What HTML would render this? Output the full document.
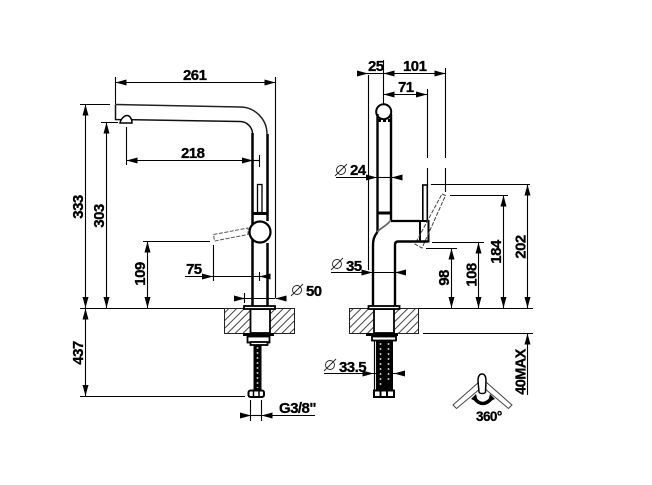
<!DOCTYPE html>
<html><head><meta charset="utf-8"><style>
html,body{margin:0;padding:0;background:#fff;width:652px;height:485px;overflow:hidden}
svg{display:block}
text{font-family:"Liberation Sans",sans-serif;font-weight:bold;font-size:15px;letter-spacing:-.55px;fill:#000;stroke:#000;stroke-width:.3}
.t{fill:none;stroke:#000;stroke-width:1.100}
.a{stroke:#000;stroke-width:1.100;fill:none;marker-end:url(#ar)}
.d{fill:#fff;stroke:#555;stroke-width:1;stroke-dasharray:4 1.500}
</style></head><body>
<svg width="652" height="485" viewBox="0 0 652 485" xmlns="http://www.w3.org/2000/svg">
<defs>
<marker id="ar" markerUnits="userSpaceOnUse" markerWidth="12" markerHeight="7" refX="11" refY="3.500" orient="auto"><path d="M0 .5L11 3.500L0 6.500z" fill="#000"/></marker>
<pattern id="h" patternUnits="userSpaceOnUse" width="5.500" height="5.500" patternTransform="rotate(-45)"><rect width="5.500" height="5.500" fill="#fff"/><rect width="5.500" height="1" fill="#444"/></pattern>
</defs>

<!-- LEFT VIEW dimensions -->
<path class="t" d="M115.500 77V104M275.500 77V298M80 104.500H110M101 122.500H118M126.500 127V165M259.500 155V167M143 241.500H210M213.500 245V281M259.500 272V281M244.500 293V303M80 308.500H244M80 396.500H245M250.500 400V421M261.500 400V421"/>
<path class="a" d="M195 82.500H115.500"/><path class="a" d="M195 82.500H275.500"/>
<path class="a" d="M200 160.500H126.500"/><path class="a" d="M200 160.500H253"/><path class="t" d="M253 160.500H259"/>
<path class="a" d="M85.500 200V104.500"/><path class="a" d="M85.500 200V308"/>
<path class="a" d="M106.500 210V122.500"/><path class="a" d="M106.500 210V308"/>
<path class="a" d="M147.500 270V241.500"/><path class="a" d="M147.500 270V308"/>
<path class="a" d="M185 276.500H213"/><path class="t" d="M213 276.500H259"/><path class="a" d="M270 276.500H259.500"/>
<path class="a" d="M234 298.500H245"/><path class="t" d="M245 298.500H275"/><path class="a" d="M286 298.500H275.500"/>
<path class="a" d="M85.500 350V308.500"/><path class="a" d="M85.500 350V396"/>
<path class="a" d="M240 415.500H251"/><path class="t" d="M251 415.500H261"/><path class="a" d="M315 415.500H261.500"/>

<!-- LEFT faucet -->
<path d="M115.500 104.500L240 107A27 27 0 0 1 267 134" fill="none" stroke="#222" stroke-width="1.500"/>
<path d="M115.500 104.500V119.500L240 121.500A12.500 12.500 0 0 1 252.500 134" fill="none" stroke="#111" stroke-width="1.500"/>
<path d="M120 123C121 118 125 115.500 127 115.500C130 115.500 132 119 132 123Z" fill="#fff" stroke="#000" stroke-width="1.500"/>
<path d="M252.500 133V306M267.500 134V221M267.500 243V306" fill="none" stroke="#000" stroke-width="2.500"/>
<rect x="257.500" y="184.500" width="4.500" height="28" fill="#fff" stroke="#000" stroke-width="1.300"/>
<path d="M252 213.500H268" stroke="#000" stroke-width="3" fill="none"/>
<path d="M213.500 234.500L248 228L248 234.500L214.500 241Z" class="d"/>
<circle cx="260" cy="232" r="10.500" fill="#fff" stroke="#000" stroke-width="2.200"/>

<!-- LEFT counter -->
<rect x="224.500" y="308.500" width="70" height="25" fill="url(#h)" stroke="#222"/>
<rect x="250.500" y="309" width="19.500" height="24" fill="#fff" stroke="#000" stroke-width="1.800"/>
<rect x="244" y="306" width="31" height="3" fill="#fff" stroke="#000" stroke-width="1.800"/>
<path d="M243 334.500H274" stroke="#000" stroke-width="3" fill="none"/>
<rect x="247.500" y="336.500" width="22" height="6" fill="#fff" stroke="#000" stroke-width="1.800"/>
<rect x="250.500" y="342" width="17" height="3" fill="#fff" stroke="#000" stroke-width="1.800"/>
<rect x="253.500" y="345" width="8" height="45" fill="#000"/>
<path d="M257.500 347V388" stroke="#bbb" stroke-width="1.600" stroke-dasharray="2 3" fill="none"/>
<rect x="248.500" y="390.500" width="15.500" height="6.500" rx="2" fill="#fff" stroke="#000" stroke-width="2"/>
<path d="M253.500 391V397M259 391V397" stroke="#000" stroke-width="1.500"/>

<!-- RIGHT dimensions -->
<path class="t" d="M368.500 75V270M383.500 60V105M445.500 68V158M445.500 168V192M427.500 89V158M427.500 168V185M431 184.500H530M450 195.500H508M432 242.500H484M426 248.500H457M418 308.500H533M423 333.500H533"/>
<path class="a" d="M358 73.500H368"/><path class="t" d="M368 73.500H430"/><path class="a" d="M395 73.500H383.500"/><path class="a" d="M430 73.500H445.500"/>
<path class="a" d="M405 94.500H383.500"/><path class="a" d="M405 94.500H427"/>
<path class="a" d="M336 177.500H377"/><path class="t" d="M377 177.500H391"/><path class="a" d="M402 177.500H391.500"/>
<path class="a" d="M331 272.500H372.500"/><path class="t" d="M372 272.500H395"/><path class="a" d="M405 272.500H395"/>
<path class="a" d="M451.500 280V248.500"/><path class="a" d="M451.500 280V308"/>
<path class="a" d="M478.500 275V242.500"/><path class="a" d="M478.500 275V308"/>
<path class="a" d="M503.500 250V195.500"/><path class="a" d="M503.500 250V308"/>
<path class="a" d="M527.500 250V184.500"/><path class="a" d="M527.500 250V308"/>
<path class="a" d="M527.500 395V333.500"/>
<path class="a" d="M324 373.500H373.500"/><path class="t" d="M373 373.500H394"/><path class="a" d="M405 373.500H394"/>

<!-- RIGHT faucet -->
<circle cx="383.700" cy="111.700" r="7.500" fill="#fff" stroke="#000" stroke-width="2"/>
<path d="M377.500 114V232M391 114V220" stroke="#000" stroke-width="2.400" fill="none"/>
<path d="M378 120.500H391" stroke="#000" stroke-width="3" stroke-dasharray="3 2" fill="none"/>
<path d="M377 213H391" stroke="#000" stroke-width="3" fill="none"/>
<path d="M391 220C386 227 379 228 376 234" stroke="#666" stroke-width="1.800" fill="none"/>
<path d="M377.500 232C374 236 373 240 373 246V306" stroke="#000" stroke-width="2.400" fill="none"/>
<path d="M391 221H420" stroke="#000" stroke-width="2.200" fill="none"/>
<rect x="422.800" y="185" width="4.500" height="36" fill="#fff" stroke="#000" stroke-width="1.600"/>
<rect x="420" y="221" width="8.500" height="20.500" fill="#fff" stroke="#000" stroke-width="2"/>
<path d="M442 194L445.500 195.500L422 248L415 244Z" fill="none" stroke="#444" stroke-width="1" stroke-dasharray="4 1.500"/>
<path d="M428 241.500H398Q395 241.500 395 245V306" stroke="#000" stroke-width="2.400" fill="none"/>

<!-- RIGHT counter -->
<rect x="349.500" y="308.500" width="69" height="25" fill="url(#h)" stroke="#222"/>
<rect x="374" y="309" width="20" height="24" fill="#fff" stroke="#000" stroke-width="1.800"/>
<rect x="368.500" y="306" width="31" height="3" fill="#fff" stroke="#000" stroke-width="1.800"/>
<path d="M366 334.500H398" stroke="#000" stroke-width="3" fill="none"/>
<rect x="372" y="336.500" width="24" height="4" fill="#fff" stroke="#000" stroke-width="1.800"/>
<rect x="376" y="340" width="17" height="50" fill="#000"/>
<path d="M374.500 340V390" stroke="#000" stroke-width="1.200"/>
<path d="M380.500 343V386M388.500 343V380" stroke="#bbb" stroke-width="1.600" stroke-dasharray="2 3" fill="none"/>
<rect x="374" y="390.500" width="20" height="6.500" fill="#fff" stroke="#000" stroke-width="2"/>
<path d="M380.500 390V397M387 390V397" stroke="#000" stroke-width="2"/>

<!-- rotation icon -->
<path d="M479 382L453 405L456.500 408.500L481 388" fill="#fff" stroke="#444" stroke-width="1"/>
<path d="M486 382L512 405L508.500 408.500L484 388" fill="#fff" stroke="#444" stroke-width="1"/>
<path d="M482 374C485 374 486 377 486 381L485.500 392C485 394 479.500 394 479 392L478 381C478 377 479 374 482 374Z" fill="#fff" stroke="#000" stroke-width="1.500"/>
<path d="M475 399Q482.500 408 491 399" fill="none" stroke="#000" stroke-width="3.500"/>
<path d="M471 399L476 394L478 402Z M495 399L490 394L488 402Z" fill="#000"/>

<!-- diameter symbols -->
<g fill="none" stroke="#222" stroke-width=".9">
<circle cx="297" cy="290" r="4.500"/><path d="M291 296L303 284"/>
<circle cx="341" cy="170" r="4.500"/><path d="M335 176L347 164"/>
<circle cx="337" cy="264" r="4.500"/><path d="M331 270L343 258"/>
<circle cx="330" cy="365" r="4.500"/><path d="M324 371L336 359"/>
</g>

<!-- labels -->
<text x="183" y="80">261</text>
<text x="181" y="158">218</text>
<text x="186" y="274">75</text>
<text x="306" y="296">50</text>
<text x="279" y="413">G3/8"</text>
<text transform="translate(83 207) rotate(-90)" text-anchor="middle">333</text>
<text transform="translate(104 216) rotate(-90)" text-anchor="middle">303</text>
<text transform="translate(145 274) rotate(-90)" text-anchor="middle">109</text>
<text transform="translate(83 353) rotate(-90)" text-anchor="middle">437</text>
<text x="368" y="71">25</text>
<text x="403" y="71">101</text>
<text x="398" y="92">71</text>
<text x="350" y="175">24</text>
<text x="346" y="271">35</text>
<text x="339" y="372">33.5</text>
<text transform="translate(449 278) rotate(-90)" text-anchor="middle">98</text>
<text transform="translate(476.500 275) rotate(-90)" text-anchor="middle">108</text>
<text transform="translate(501 252) rotate(-90)" text-anchor="middle">184</text>
<text transform="translate(525.500 247) rotate(-90)" text-anchor="middle">202</text>
<text transform="translate(525.500 372) rotate(-90)" text-anchor="middle" style="font-size:14.500px">40MAX</text>
<text x="476" y="421" style="font-size:13.500px">360°</text>
</svg>
</body></html>
